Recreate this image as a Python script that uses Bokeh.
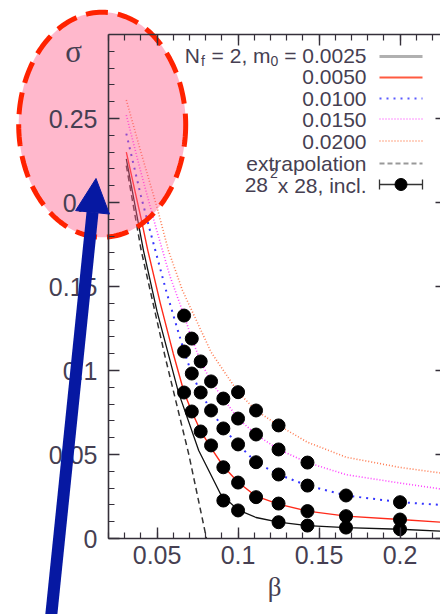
import math
from bokeh.plotting import figure
from bokeh.models import (Range1d, LinearAxis, SingleIntervalTicker, Label,
                          Arrow, NormalHead, CustomJSTickFormatter)
from bokeh.embed import file_html
from bokeh.resources import INLINE

# ---------------- data ----------------
mass_labels = ["0.0025", "0.0050", "0.0100", "0.0150", "0.0200"]

# fit curves
fit_beta_0025 = [0.031, 0.0416, 0.050, 0.0632, 0.0757, 0.0891, 0.1000, 0.1111, 0.1250, 0.1429, 0.1667, 0.2000, 0.2250]
fit_sig_0025 = [0.226, 0.1714, 0.135, 0.087, 0.0524, 0.0266, 0.0170, 0.0125, 0.0097, 0.0077, 0.0065, 0.0055, 0.0044]

fit_beta_0050 = [0.031, 0.040, 0.0443, 0.052, 0.060, 0.0667, 0.0714, 0.0769, 0.0833, 0.0909, 0.1000, 0.1111, 0.1250, 0.1429, 0.1667, 0.2000, 0.2250]
fit_sig_0050 = [0.230, 0.191, 0.1714, 0.140, 0.110, 0.0869, 0.0756, 0.0640, 0.0540, 0.0430, 0.0335, 0.0252, 0.0205, 0.0163, 0.0133, 0.0113, 0.0097]

fit_beta_0100 = [0.031, 0.040, 0.0457, 0.056, 0.0667, 0.0714, 0.0769, 0.0833, 0.0909, 0.1000, 0.1111, 0.1250, 0.1429, 0.1667, 0.2000, 0.2250]
fit_sig_0100 = [0.241, 0.204, 0.183, 0.146, 0.1113, 0.0982, 0.0869, 0.0762, 0.0655, 0.0560, 0.0454, 0.0381, 0.0315, 0.0256, 0.0216, 0.0200]

fit_beta_0150 = [0.031, 0.040, 0.0498, 0.058, 0.0667, 0.0714, 0.0769, 0.0833, 0.0909, 0.1000, 0.1111, 0.1250, 0.1429, 0.1667, 0.2000, 0.2250]
fit_sig_0150 = [0.252, 0.218, 0.1833, 0.156, 0.1327, 0.1190, 0.1054, 0.0935, 0.0833, 0.0714, 0.0619, 0.0530, 0.0452, 0.0380, 0.0330, 0.0295]

fit_beta_0200 = [0.031, 0.040, 0.050, 0.057, 0.0657, 0.0833, 0.1000, 0.1111, 0.1250, 0.1429, 0.1667, 0.2000, 0.2250]
fit_sig_0200 = [0.261, 0.230, 0.197, 0.1714, 0.1476, 0.111, 0.0871, 0.0762, 0.0673, 0.0573, 0.0484, 0.0423, 0.0390]

extrap_beta = [0.031, 0.0402, 0.055, 0.0696, 0.0805]
extrap_sig = [0.222, 0.1714, 0.108, 0.050, 0.0]

# lattice data 28^2 x 28
pt_beta_0025 = [1/11, 1/10, 1/8, 1/7, 1/6, 1/5]
pt_sig_0025 = [0.0226, 0.0167, 0.0097, 0.0077, 0.0065, 0.0055]
pt_beta_0050 = [1/15, 1/14, 1/13, 1/12, 1/11, 1/10, 1/9, 1/8, 1/7, 1/6, 1/5]
pt_sig_0050 = [0.0869, 0.0756, 0.0637, 0.0554, 0.0424, 0.0333, 0.0246, 0.0208, 0.0163, 0.0133, 0.0113]
pt_beta_0100 = [1/15, 1/14, 1/13, 1/12, 1/11, 1/10, 1/9, 1/8, 1/7, 1/6, 1/5]
pt_sig_0100 = [0.1113, 0.0982, 0.0869, 0.0762, 0.0655, 0.0560, 0.0454, 0.0381, 0.0315, 0.0256, 0.0216]
pt_beta_0150 = [1/15, 1/14, 1/13, 1/12, 1/11, 1/10, 1/9, 1/8, 1/7]
pt_sig_0150 = [0.1327, 0.1190, 0.1054, 0.0935, 0.0833, 0.0714, 0.0619, 0.0530, 0.0452]
pt_beta_0200 = [1/10, 1/9, 1/8]
pt_sig_0200 = [0.0871, 0.0762, 0.0673]

x_ticks_step = 0.05
y_ticks_step = 0.05

# ---------------- layout helpers ----------------
X0, X1 = 0.02, 0.225          # axis extent (data)
Y0, Y1 = 0.0, 0.3
FL, FT, FW, FH = 108.0, 34.0, 332.0, 504.0   # axes box in picture px
CW, CH = 440, 614


def bx(px):
    return X0 + (px - FL) * (X1 - X0) / FW


def sy(py):
    return Y1 - (py - FT) * (Y1 - Y0) / FH


TXT = "#463f52"
AX = "#35303a"
SANS = "Liberation Sans"
SERIF = "Liberation Serif"

# the plotting frame covers the whole canvas; axes are pinned at fixed locations
p = figure(width=CW, height=CH, output_backend="svg", toolbar_location=None,
           x_range=Range1d(bx(0), bx(CW)), y_range=Range1d(sy(CH), sy(0)),
           x_axis_location=None, y_axis_location=None, min_border=0)
p.xgrid.visible = False
p.ygrid.visible = False
p.outline_line_color = None
p.background_fill_color = "white"
p.border_fill_color = "white"

fmt = CustomJSTickFormatter(code="return tick.toFixed(2).replace(/\\.?0+$/, '')")
left = LinearAxis(fixed_location=X0, bounds=(Y0, Y1))
bottom = LinearAxis(fixed_location=Y0, bounds=(X0, X1))
top = LinearAxis(fixed_location=Y1, bounds=(X0, X1))
right = LinearAxis(fixed_location=bx(446), bounds=(Y0, Y1))
p.add_layout(left, "left")
p.add_layout(bottom, "below")
p.add_layout(top, "above")
p.add_layout(right, "right")

for ax, step in [(bottom, x_ticks_step), (top, x_ticks_step),
                 (left, y_ticks_step), (right, y_ticks_step)]:
    ax.ticker = SingleIntervalTicker(interval=step, num_minor_ticks=5)
    ax.formatter = fmt
    ax.axis_line_color = AX
    ax.axis_line_width = 1.6
    ax.major_tick_line_color = AX
    ax.minor_tick_line_color = AX
    ax.major_tick_line_width = 1.4
    ax.minor_tick_line_width = 1.2
    ax.major_tick_in = 11
    ax.major_tick_out = 0
    ax.minor_tick_in = 6
    ax.minor_tick_out = 0
    ax.major_label_text_font = SANS
    ax.major_label_text_font_size = "25px"
    ax.major_label_text_color = TXT

top.major_label_text_color = None
right.major_label_text_color = None
right.minor_tick_line_color = None
left.major_label_standoff = 11
bottom.major_label_standoff = 7
bottom.axis_label = "β"
bottom.axis_label_text_font = SERIF
bottom.axis_label_text_font_size = "27px"
bottom.axis_label_text_font_style = "normal"
bottom.axis_label_text_color = TXT
bottom.axis_label_standoff = 5

# ---------------- curves ----------------
p.line(extrap_beta, extrap_sig, line_color="#333333", line_width=1.5, line_dash="6 4")
p.line(fit_beta_0025, fit_sig_0025, line_color="#111111", line_width=1.3)
p.line(fit_beta_0050, fit_sig_0050, line_color="#ff2a1a", line_width=1.4)
p.line(fit_beta_0100, fit_sig_0100, line_color="#3535ff", line_width=2, line_dash="2 5")
p.line(fit_beta_0150, fit_sig_0150, line_color="#ff40ff", line_width=1.6, line_dash="1 2")
p.line(fit_beta_0200, fit_sig_0200, line_color="#ff7a50", line_width=1.6, line_dash="1 2")

for bb, ss in [(pt_beta_0025, pt_sig_0025), (pt_beta_0050, pt_sig_0050),
               (pt_beta_0100, pt_sig_0100), (pt_beta_0150, pt_sig_0150),
               (pt_beta_0200, pt_sig_0200)]:
    p.scatter(bb, ss, size=13, fill_color="black", line_color="black")

# ---------------- legend (hand laid out, labels right aligned) ----------------
R = 366.0
FS, SFS = 21.0, 14.0
W = {'0': 556, '.': 278, '2': 556, ',': 278, ' ': 278, '=': 584, 'm': 833, 'N': 722,
     'f': 278, 'x': 500, '8': 556, 'i': 222, 'n': 556, 'c': 500, 'l': 222}


def tw(s, fs):
    return sum(W.get(ch, 556) for ch in s) / 1000.0 * fs


def lab(xpx, ypx, text, fs, align="right"):
    p.add_layout(Label(x=bx(xpx), y=sy(ypx), text=text, text_font=SANS,
                       text_font_size=f"{fs}px", text_color=TXT, text_align=align,
                       text_baseline="alphabetic"))


base = [55, 76.5, 98, 119.5, 141, 162.5, 184.5]
SP = tw(" ", FS)
# row 1: N_f = 2, m_0 = 0.0025   (pieces laid right to left)
s1 = "= " + mass_labels[0]
x = R
lab(x, base[0], s1, FS); x -= tw(s1, FS) + SP
lab(x, base[0] + 5, "0", SFS); x -= tw("0", SFS)
s2 = "= 2, m"
lab(x, base[0], s2, FS); x -= tw(s2, FS) + SP + 1
lab(x, base[0] + 5, "f", SFS); x -= tw("f", SFS) + 1
lab(x, base[0], "N", FS)
for i in range(1, 5):
    lab(R, base[i], mass_labels[i], FS)
lab(R, base[5], "extrapolation", FS)
s7 = "x 28, incl."
x = R
lab(x, base[6], s7, FS); x -= tw(s7, FS)
lab(x, base[6] - 12, "2", SFS); x -= tw("2", SFS) + 2
lab(x, base[6], "28", FS)

L0, L1 = bx(379), bx(422)
sample_y = [56, 77, 98, 118.5, 140.5, 163, 184]
styles = [dict(line_color="#b0b0b0", line_width=3),
          dict(line_color="#ff5a40", line_width=2.2),
          dict(line_color="#5a5aff", line_width=2, line_dash="2 5"),
          dict(line_color="#ff70ff", line_width=1.6, line_dash="1 2"),
          dict(line_color="#ff8a60", line_width=1.6, line_dash="1 2"),
          dict(line_color="#999999", line_width=2, line_dash="5 3")]
for yy, st in zip(sample_y[:6], styles):
    p.line([L0, L1], [sy(yy), sy(yy)], **st)
ye = sy(sample_y[6])
p.line([L0, L1], [ye, ye], line_color="#333333", line_width=1.3)
p.segment([L0, L1], [sy(sample_y[6] - 5)] * 2, [L0, L1], [sy(sample_y[6] + 5)] * 2,
          line_color="#333333", line_width=1.3)
p.scatter([(L0 + L1) / 2], [ye], size=12, fill_color="black", line_color="black")

# ---------------- sigma label ----------------
p.add_layout(Label(x=bx(73), y=sy(51), text="σ", text_font=SERIF,
                   text_font_size="31px", text_color=TXT, text_align="center",
                   text_baseline="alphabetic"))

# ---------------- highlight ellipse and arrow ----------------
cx, cy, ea, eb = 101.7, 124.2, 83.5, 112.5
n = 180
exs = [bx(cx + ea * math.cos(2 * math.pi * k / n)) for k in range(n)]
eys = [sy(cy + eb * math.sin(2 * math.pi * k / n)) for k in range(n)]
p.patch(exs, eys, fill_color="#ff618d", fill_alpha=0.45, line_color=None)
p.patch(exs, eys, fill_color=None, line_color="#ff2200", line_width=5, line_dash="22 10")

p.add_layout(Arrow(end=NormalHead(size=34, fill_color="#0618a2", line_color="#0618a2"),
                   x_start=bx(50), y_start=sy(622), x_end=bx(95.5), y_end=sy(178),
                   line_color="#0618a2", line_width=12))

open("out.html", "w").write(file_html(p, INLINE))
